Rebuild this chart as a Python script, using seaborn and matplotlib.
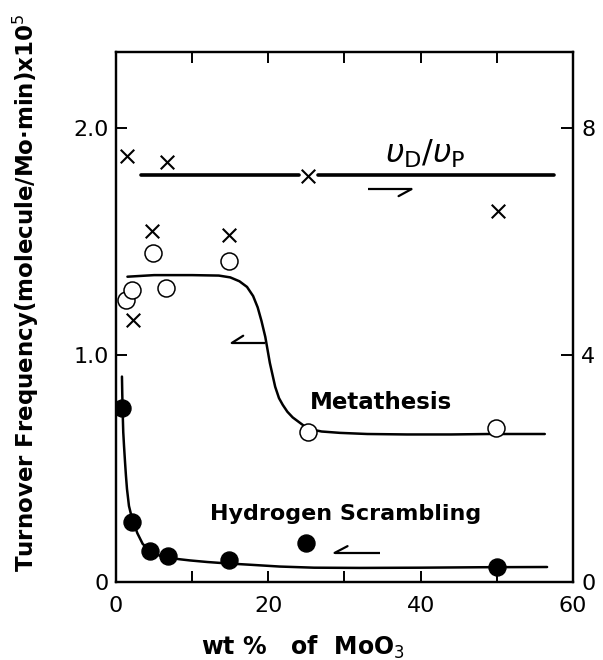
import numpy as np
import pandas as pd
import matplotlib
matplotlib.use("Agg")
import matplotlib.pyplot as plt
import seaborn as sns

# ---------------- data ----------------
# wt % of MoO3 for the measured points
meta_x = [1.3, 2.1, 4.8, 6.6, 14.8, 25.2, 49.9]
meta_y = [1.244, 1.288, 1.449, 1.295, 1.413, 0.659, 0.679]

hs_x = [0.85, 2.1, 4.5, 6.8, 14.8, 25.0, 50.0]
hs_y = [0.765, 0.264, 0.138, 0.113, 0.096, 0.170, 0.068]

ratio_x = [1.5, 2.2, 4.7, 6.7, 14.8, 25.2, 50.2]
ratio_y = [7.50, 4.62, 6.18, 7.41, 6.12, 7.15, 6.53]

# fitted curves as drawn in the figure
meta_curve_x = [1.5, 5.0, 10.0, 13.5, 15.0, 16.2, 17.2, 18.0, 18.6, 19.1, 19.6,
                20.2, 20.9, 21.4, 21.9, 22.5, 23.2, 24.4, 25.2, 27.0, 29.4, 33.0,
                38.2, 44.0, 49.0, 56.3]
meta_curve_y = [1.345, 1.352, 1.352, 1.35, 1.342, 1.325, 1.30, 1.26, 1.21, 1.15, 1.08,
                0.965, 0.86, 0.81, 0.78, 0.75, 0.725, 0.695, 0.675, 0.663, 0.657, 0.652,
                0.650, 0.650, 0.652, 0.652]

hs_curve_x = [0.78, 0.82, 0.88, 0.95, 1.05, 1.18, 1.3, 1.44, 1.7, 2.1, 2.8, 3.5, 4.5,
              5.8, 7.0, 8.4, 9.7, 12.0, 14.5, 17.6, 21.5, 26.0, 32.0, 40.0, 48.0, 56.6]
hs_curve_y = [0.905, 0.83, 0.74, 0.66, 0.60, 0.53, 0.47, 0.41, 0.335, 0.28, 0.215, 0.168, 0.136,
              0.115, 0.106, 0.100, 0.095, 0.088, 0.082, 0.076, 0.068, 0.063, 0.062, 0.063, 0.065, 0.066]

ratio_line_x = [3.3, 24.0, 26.5, 57.5]
ratio_line_y = [7.18, 7.18, 7.18, 7.18]
ratio_line_seg = [0, 0, 1, 1]

# axis ticks
x_major = [0, 20, 40, 60]
x_minor = [10, 30, 50]
y_left_ticks = [0, 1.0, 2.0]
y_left_labels = ["0", "1.0", "2.0"]
y_right_ticks = [0, 4, 8]
y_right_labels = ["0", "4", "8"]

# ---------------- styling ----------------
sns.set_style("ticks")
plt.rcParams["font.family"] = ["DejaVu Sans"]
plt.rcParams["axes.edgecolor"] = "black"
plt.rcParams["axes.linewidth"] = 1.6
plt.rcParams["text.color"] = "black"
plt.rcParams["axes.labelcolor"] = "black"
plt.rcParams["xtick.color"] = "black"
plt.rcParams["ytick.color"] = "black"

fig = plt.figure(figsize=(6.03, 6.6), dpi=100)
ax = fig.add_axes([0.1924, 0.1182, 0.7578, 0.8030])
ax2 = ax.twinx()

# curves
sns.lineplot(x=meta_curve_x, y=meta_curve_y, ax=ax, color="black", lw=1.8,
             sort=False, estimator=None, zorder=2)
sns.lineplot(x=hs_curve_x, y=hs_curve_y, ax=ax, color="black", lw=1.8,
             sort=False, estimator=None, zorder=2)

# points on left axis
sns.scatterplot(x=meta_x, y=meta_y, ax=ax, marker="o", s=150, facecolor="white",
                edgecolor="black", linewidth=1.1, zorder=4)
sns.scatterplot(x=hs_x, y=hs_y, ax=ax, marker="o", s=150, color="black",
                edgecolor="black", linewidth=1.0, zorder=4)

# ratio on right axis
rdf = pd.DataFrame({"x": ratio_line_x, "y": ratio_line_y, "seg": ratio_line_seg})
sns.lineplot(data=rdf, x="x", y="y", units="seg", estimator=None, ax=ax2,
             color="black", lw=2.6, sort=False, zorder=2)
sns.scatterplot(x=ratio_x, y=ratio_y, ax=ax2, marker="x", s=95, color="black",
                linewidth=1.5, zorder=4)

# limits
ax.set_xlim(0, 60)
ax.set_ylim(0, 2.335)
ax2.set_ylim(0, 2.335 * 4)
ax.patch.set_visible(False)
ax2.patch.set_visible(False)

# ticks
ax.set_xticks(x_major)
ax.set_xticks(x_minor, minor=True)
ax.set_yticks(y_left_ticks)
ax.set_yticklabels(y_left_labels)
ax2.set_yticks(y_right_ticks)
ax2.set_yticklabels(y_right_labels)
ax.tick_params(axis="x", which="both", direction="in", length=8, width=1.4,
               top=True, bottom=True, labelsize=16, pad=10)
ax.tick_params(axis="y", which="both", direction="in", length=8, width=1.4,
               left=True, right=False, labelsize=16, pad=5)
ax2.tick_params(axis="y", direction="in", length=9, width=1.4, labelsize=16, pad=6)
for a in (ax, ax2):
    for s in a.spines.values():
        s.set_visible(True)
        s.set_linewidth(1.6)

ax.set_xlabel("wt %   of  MoO$_3$", fontsize=17, fontweight="bold")
ax.xaxis.set_label_coords(0.41, -0.098)
ax.set_ylabel("Turnover Frequency(molecule/Mo·min)x10$^5$", fontsize=16.5,
              fontweight="bold")
ax.yaxis.set_label_coords(-0.165, 0.545)
ax2.set_ylabel("")

# annotations
ax.text(34.8, 0.79, "Metathesis", fontsize=16.5, fontweight="bold",
        ha="center", va="center")
ax.text(30.1, 0.30, "Hydrogen Scrambling", fontsize=16, fontweight="bold",
        ha="center", va="center")
ax.text(40.6, 1.885, r"$\upsilon_{\rm D}/\upsilon_{\rm P}$", fontsize=23,
        ha="center", va="center")


# half-arrows indicating which axis each curve belongs to
def half_arrow(x0, x1, y, tipx, hx, hy):
    ax.plot([x0, x1], [y, y], color="black", lw=1.6, solid_capstyle="butt")
    ax.plot([tipx, hx], [y, hy], color="black", lw=1.6)


half_arrow(15.2, 19.6, 1.053, 15.2, 16.7, 1.085)   # metathesis -> left axis
half_arrow(28.7, 34.6, 0.128, 28.7, 30.4, 0.158)   # scrambling -> left axis
half_arrow(33.1, 38.8, 1.731, 38.8, 37.1, 1.70)    # ratio -> right axis

fig.savefig("out.png", dpi=100)
